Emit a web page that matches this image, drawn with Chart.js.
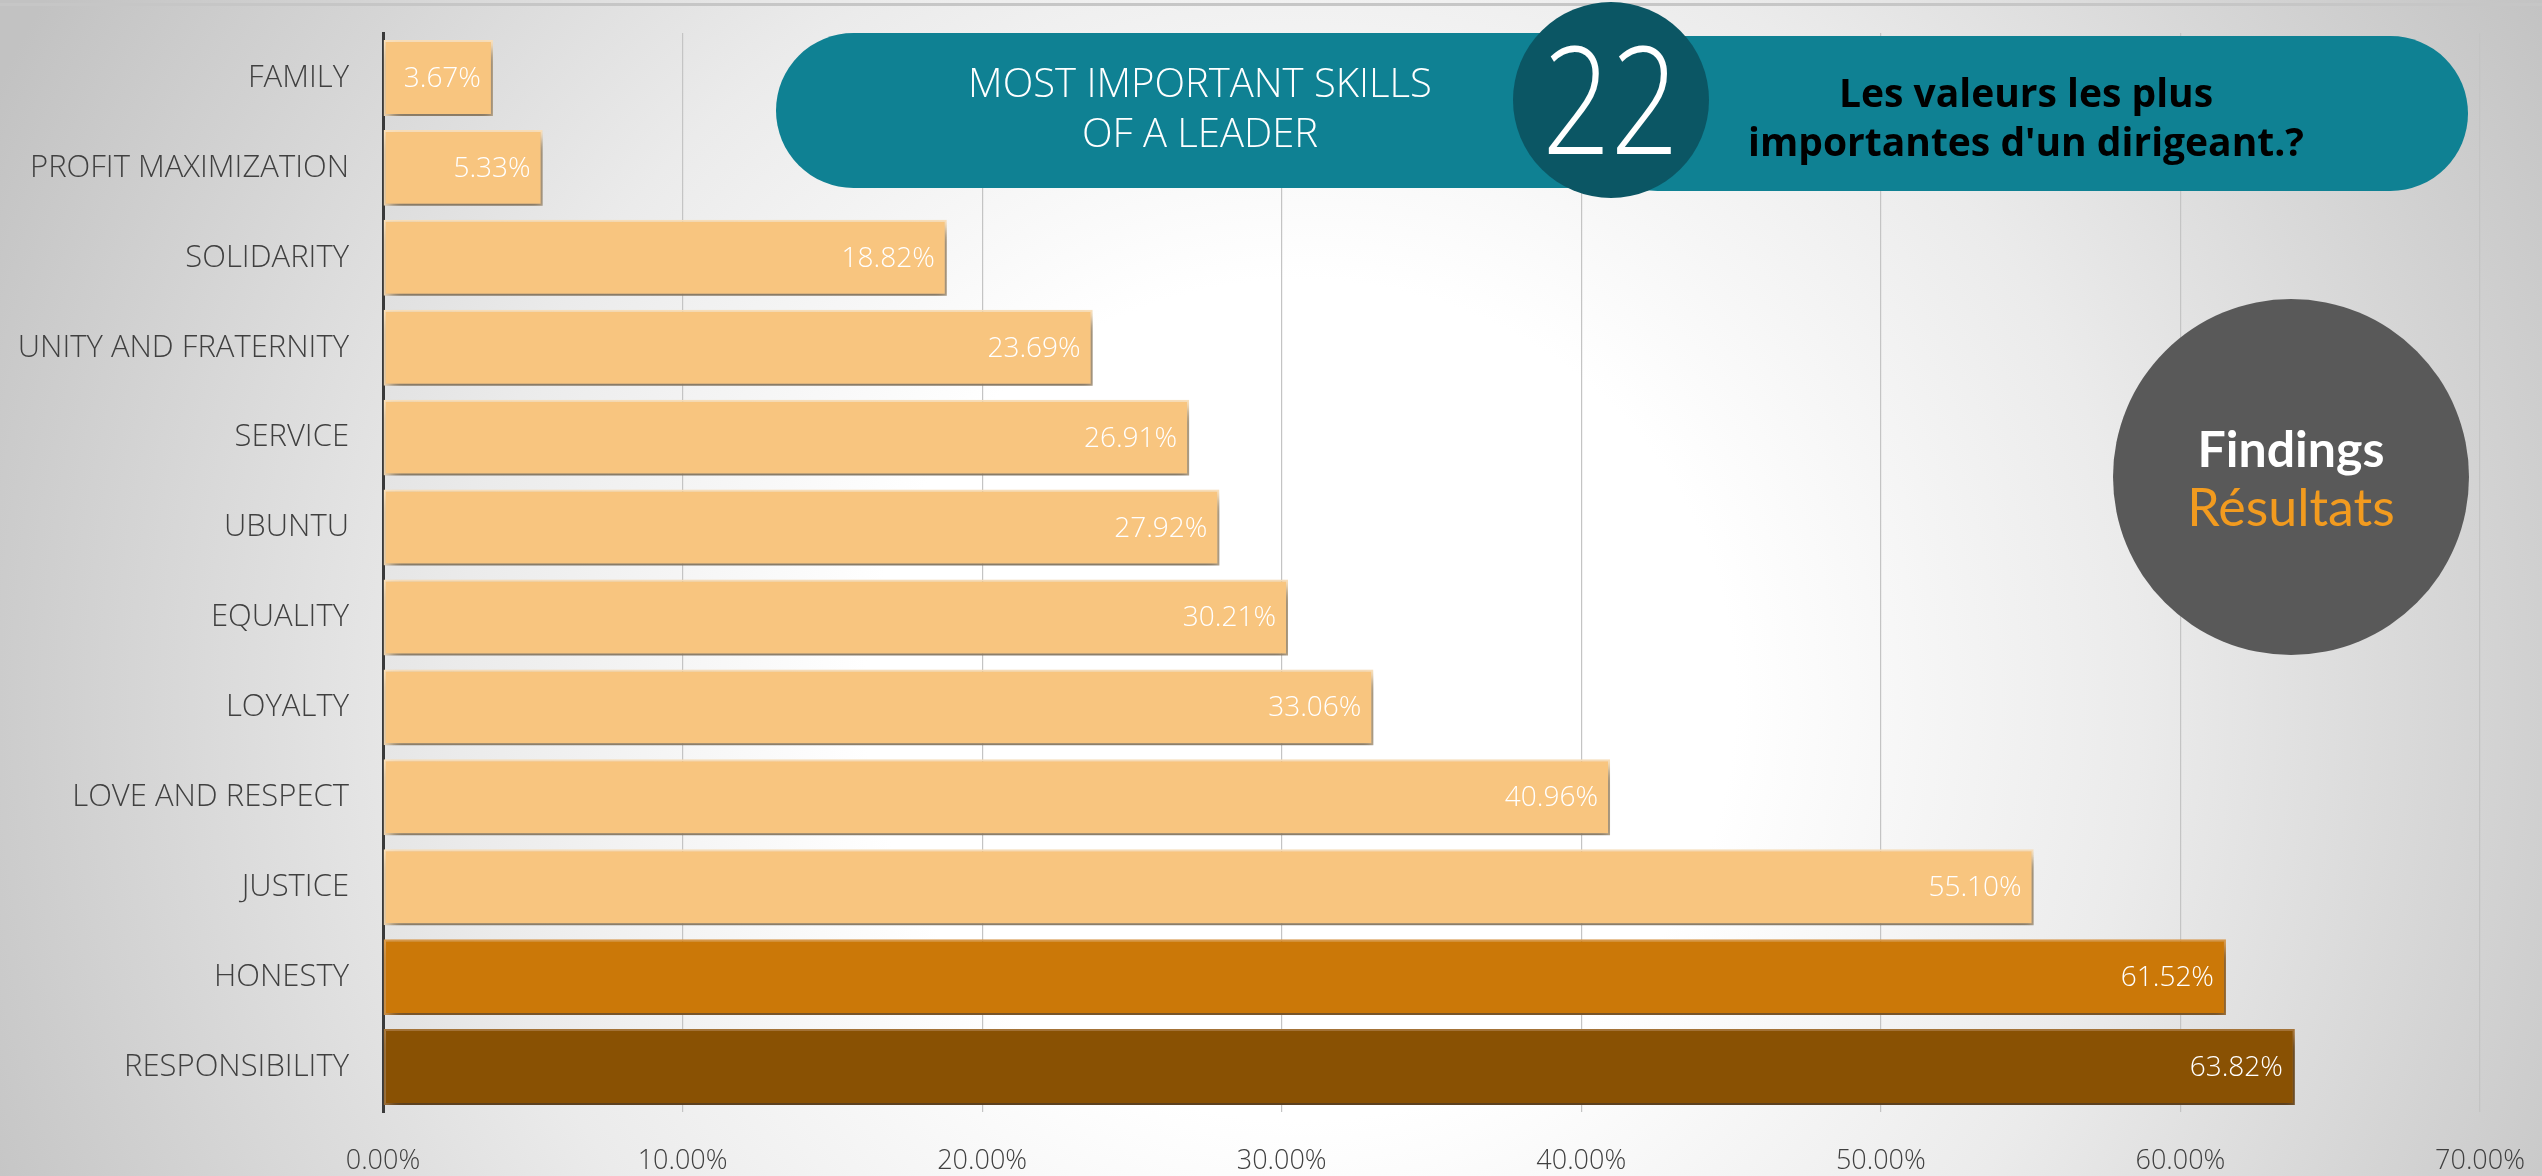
<!DOCTYPE html>
<html>
<head>
<meta charset="utf-8">
<script src="https://cdn.jsdelivr.net/npm/chart.js@4"></script>
<style>
  html, body { margin: 0; padding: 0; overflow: hidden; }
  #wrap {
    position: relative; width: 2542px; height: 1176px;
    background: radial-gradient(ellipse 1450px 1400px at 1300px 700px, #ffffff 0%, #ffffff 30%, #ebebeb 58%, #c2c2c2 100%);
    font-family: 'Open Sans', sans-serif;
  }
  #topline { position: absolute; left: 0; top: 3px; width: 2542px; height: 3px; background: #c6c6c6; }
  #chart { position: absolute; left: 0; top: 0; width: 2542px; height: 1176px; }
  .pill { position: absolute; background: #0f8193; height: 155px; border-radius: 78px; }
  #badge {
    position: absolute; left: 1513px; top: 2px; width: 196px; height: 196px; border-radius: 50%;
    background: #0b5664; color: #fff; font-weight: 300; font-size: 150px;
    display: flex; align-items: center; justify-content: center;
  }
  #badge span { display: inline-block; transform: scaleX(0.8); line-height: 1; margin-top: -8px; }
  #titleEn {
    position: absolute; left: 900px; top: 57px; width: 600px; text-align: center;
    color: #fff; font-weight: 300; font-size: 40px; line-height: 50px;
  }
  #titleFr {
    position: absolute; left: 1726px; top: 67px; width: 600px; text-align: center;
    color: #000; font-weight: 700; font-size: 39px; line-height: 49px;
  }
  #findings {
    position: absolute; left: 2113px; top: 299px; width: 356px; height: 356px; border-radius: 50%;
    background: #595959; font-family: Lato, 'Open Sans', sans-serif; text-align: center;
  }
  #findings div { position: absolute; left: 0; width: 356px; line-height: 58px; }
  #f1 { top: 120px; color: #fff; font-weight: 700; font-size: 50px; }
  #f2 { top: 178px; color: #f29b1f; font-weight: 400; font-size: 52px; }
</style>
</head>
<body>
<div id="wrap">
  <div id="topline"></div>
  <div id="chart"><canvas id="chart-skills"></canvas></div>
  <div class="pill" style="left:776px; top:33px; width:870px;"></div>
  <div class="pill" style="left:1580px; top:36px; width:888px;"></div>
  <div id="badge"><span>22</span></div>
  <div id="titleEn">MOST IMPORTANT SKILLS<br>OF A LEADER</div>
  <div id="titleFr">Les valeurs les plus<br>importantes d'un dirigeant.?</div>
  <div id="findings"><div id="f1">Findings</div><div id="f2">Résultats</div></div>
</div>
<script>
// values in percent, top to bottom
const skills = ['FAMILY', 'PROFIT MAXIMIZATION', 'SOLIDARITY', 'UNITY AND FRATERNITY', 'SERVICE', 'UBUNTU',
    'EQUALITY', 'LOYALTY', 'LOVE AND RESPECT', 'JUSTICE', 'HONESTY', 'RESPONSIBILITY'];
const shares = [3.67, 5.33, 18.82, 23.69, 26.91, 27.92, 30.21, 33.06, 40.96, 55.10, 61.52, 63.82];
const xTicks = [0, 10, 20, 30, 40, 50, 60, 70];

const colors = {
    light: '#f8c57f',
    lightEdge: '#fde3bd',
    honesty: '#cb7808',
    honestyEdge: '#dd9c4c',
    resp: '#895103',
    respEdge: '#a8763a',
    text: '#404040',
    grid: '#c4c4c4',
    axis: '#3a3a3a'
};

const barColors = skills.map(s => s === 'HONESTY' ? colors.honesty : s === 'RESPONSIBILITY' ? colors.resp : colors.light);
const edgeColors = skills.map(s => s === 'HONESTY' ? colors.honestyEdge : s === 'RESPONSIBILITY' ? colors.respEdge : colors.lightEdge);

const barShadow = {
    id: 'barShadow',
    beforeDatasetsDraw(chart) {
        const c = chart.ctx;
        c.save();
        c.shadowColor = 'rgba(0,0,0,0.5)';
        c.shadowBlur = 12;
        c.shadowOffsetX = 4;
        c.shadowOffsetY = 9;
    },
    afterDatasetsDraw(chart) {
        chart.ctx.restore();
    }
};

const valueLabels = {
    id: 'valueLabels',
    afterDraw(chart) {
        const c = chart.ctx;
        const meta = chart.getDatasetMeta(0);
        c.save();
        c.fillStyle = '#ffffff';
        c.font = "300 28px 'Open Sans', sans-serif";
        c.textAlign = 'right';
        c.textBaseline = 'middle';
        meta.data.forEach((bar, i) => {
            c.fillText(shares[i].toFixed(2) + '%', bar.x - 12, bar.y + 1);
        });
        c.restore();
    }
};

new Chart(document.getElementById('chart-skills'), {
    type: 'bar',
    data: {
        labels: skills,
        datasets: [{
            data: shares,
            backgroundColor: barColors,
            borderColor: edgeColors,
            borderWidth: 2,
            borderSkipped: false,
            barPercentage: 0.845,
            categoryPercentage: 1
        }]
    },
    options: {
        indexAxis: 'y',
        responsive: true,
        maintainAspectRatio: false,
        animation: false,
        layout: { padding: { top: 33, right: 62, left: 0, bottom: 0 } },
        plugins: {
            legend: { display: false },
            tooltip: { enabled: false }
        },
        scales: {
            x: {
                min: 0,
                max: 70,
                afterBuildTicks: axis => { axis.ticks = xTicks.map(v => ({ value: v })); },
                afterFit: axis => { axis.height = 64; },
                // tick marks kept invisible, only used as a gap above the labels
                grid: { color: colors.grid, lineWidth: 1.2, drawTicks: true, tickLength: 33, tickColor: 'transparent' },
                border: { display: false },
                ticks: {
                    color: colors.text,
                    padding: 0,
                    font: { family: "'Open Sans', sans-serif", size: 27, weight: '300' },
                    callback: v => v.toFixed(2) + '%'
                }
            },
            y: {
                afterFit: axis => { axis.width = 383; },
                grid: { drawOnChartArea: false, drawTicks: true, tickLength: 34, tickColor: 'transparent', color: 'transparent' },
                border: { display: true, color: colors.axis, width: 3 },
                ticks: {
                    color: colors.text,
                    padding: 0,
                    font: { family: "'Open Sans', sans-serif", size: 31, weight: '300' }
                }
            }
        }
    },
    plugins: [barShadow, valueLabels]
});
</script>
</body>
</html>
